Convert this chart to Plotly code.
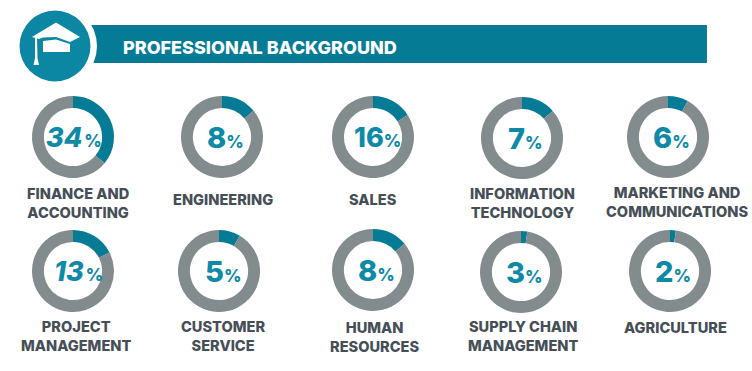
import plotly.graph_objects as go

W, H = 752, 371
TITLE = "PROFESSIONAL BACKGROUND"
categories = ["FINANCE AND<br>ACCOUNTING", "ENGINEERING", "SALES", "INFORMATION<br>TECHNOLOGY",
              "MARKETING AND<br>COMMUNICATIONS", "PROJECT<br>MANAGEMENT", "CUSTOMER<br>SERVICE",
              "HUMAN<br>RESOURCES", "SUPPLY CHAIN<br>MANAGEMENT", "AGRICULTURE"]
# printed percentages
printed = [34, 8, 16, 7, 6, 13, 5, 8, 3, 2]
# share of each ring drawn in teal (differs from the printed figure)
ring_share = [36, 14, 16, 13.5, 8, 17.5, 8.5, 14, 2.5, 2.3]

cx = [73, 222, 373, 522, 668, 73, 219, 373, 521, 670]
cy = [137, 137, 137, 138, 137, 271, 271, 270, 272, 271]
label_x = [78, 223, 373, 522, 677, 76, 223, 375, 523, 675]
label_y = [203, 200, 200, 203, 202, 336, 336, 337, 336, 328]
italic = [True, False, False, False, False, True, False, False, False, False]
num_x = [1, 3, 4, 3, 3, 5, 4, 3, 3, 3]
num_size = [27, 29, 27, 29, 29, 27, 29, 29, 29, 29]
R = 41

TEAL, GREY, NUM, TXT = "#067B95", "#828B8D", "#0E8AA7", "#464F57"
FONT = "Inter"

px = lambda x: x / W
py = lambda y: 1 - y / H

fig = go.Figure()
ann = []
for i, c in enumerate(categories):
    fig.add_trace(go.Pie(
        values=[ring_share[i], 100 - ring_share[i]], hole=0.71, sort=False, direction="clockwise",
        rotation=0, textinfo="none", hoverinfo="skip", showlegend=False,
        marker=dict(colors=[TEAL, GREY], line=dict(width=0)),
        domain=dict(x=[px(cx[i] - R), px(cx[i] + R)], y=[py(cy[i] + R), py(cy[i] - R)]),
    ))
    num = str(printed[i])
    if italic[i]:
        num = f"<i>{num}</i>"
    gap = " " if printed[i] in (34, 13) else ""
    ann.append(dict(
        x=px(cx[i] + num_x[i]), y=py(cy[i]), xref="paper", yref="paper", showarrow=False,
        text=f"{num}<span style='font-size:9px'>{gap}</span><span style='font-size:17px'>%</span>",
        font=dict(family=FONT, size=num_size[i], color=NUM, weight=800), xanchor="center", yanchor="middle",
    ))
    ann.append(dict(
        x=px(label_x[i]), y=py(label_y[i]), xref="paper", yref="paper", showarrow=False,
        text=c, align="center",
        font=dict(family=FONT, size=14.6, color=TXT, weight=800), xanchor="center", yanchor="middle",
    ))
ann.append(dict(
    x=px(121), y=py(47.5), xref="paper", yref="paper", showarrow=False, text=TITLE,
    font=dict(family=FONT, size=18, color="white", weight=800), xanchor="left", yanchor="middle",
))


def pth(points):
    return "M" + " L".join(f"{px(x):.5f},{py(y):.5f}" for x, y in points) + " Z"


shapes = [
    dict(type="rect", x0=px(90), x1=px(707), y0=py(63), y1=py(25), fillcolor=TEAL, line_width=0),
    dict(type="circle", x0=px(55 - 42), x1=px(55 + 42), y0=py(46 + 42), y1=py(46 - 42), fillcolor="white", line_width=0),
    dict(type="circle", x0=px(55 - 35.5), x1=px(55 + 35.5), y0=py(46 + 35.5), y1=py(46 - 35.5), fillcolor="#0C87A3", line_width=0),
    # cap board
    dict(type="path", path=pth([(56, 22.5), (80, 37), (70, 42), (56, 37), (43, 37.5), (39, 39), (32, 37)]),
         fillcolor="white", line_width=0),
    # cap body
    dict(type="path", path=pth([(43, 41), (56, 39.5), (70, 44), (70, 52), (43, 52)]),
         fillcolor="white", line_width=0),
    # tassel
    dict(type="path", path=pth([(35, 38), (37, 38), (37.5, 58), (39, 65), (33.5, 65), (35, 58)]),
         fillcolor="white", line_width=0),
]
for s in shapes:
    s["xref"] = "paper"
    s["yref"] = "paper"
    s["layer"] = "above"

fig.update_layout(
    width=W, height=H, margin=dict(l=0, r=0, t=0, b=0), paper_bgcolor="white",
    plot_bgcolor="white", annotations=ann, shapes=shapes, showlegend=False,
)
fig.write_html("out.html", config={"displayModeBar": False},
               post_script="document.body.style.margin='0';document.body.style.overflow='hidden';")
